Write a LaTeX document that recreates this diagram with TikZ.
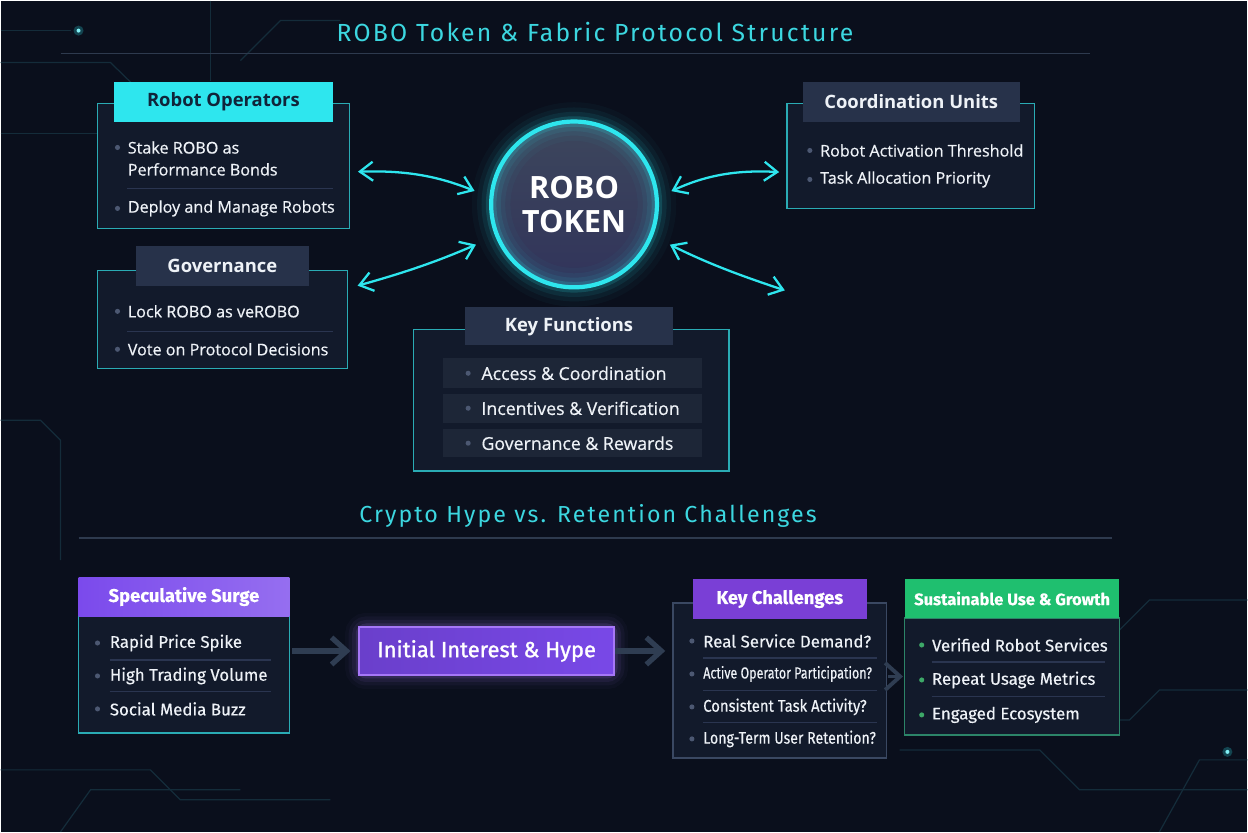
\documentclass[tikz,border=0pt]{standalone}
\usepackage{fontspec}
\usepackage{graphicx}
\setmainfont{Open Sans}
\newfontfamily\itemfont[FakeBold=0.6]{Open Sans}
\newfontfamily\titlefont[LetterSpace=9]{Fira Sans}
\newfontfamily\flowfont[FakeBold=0.4]{Fira Sans}
\newfontfamily\flowmid[FakeBold=1.2]{Fira Sans}
\usetikzlibrary{arrows.meta, positioning, fit}

\definecolor{bgnavy}{HTML}{0A0F1C}
\definecolor{panelfill}{HTML}{121A2B}
\definecolor{edgecyan}{HTML}{2AABB4}
\definecolor{neon}{HTML}{2EE6EE}
\definecolor{titlecyan}{HTML}{3CD7E0}
\definecolor{slate}{HTML}{27324A}
\definecolor{rowfill}{HTML}{1D2637}
\definecolor{dotgray}{HTML}{4C5872}
\definecolor{sepline}{HTML}{2A3550}
\definecolor{rulegray}{HTML}{2E3A4E}
\definecolor{txt}{HTML}{EEF2F7}
\definecolor{headnavy}{HTML}{10243A}
\definecolor{violet}{HTML}{7B4AEC}
\definecolor{violetdark}{HTML}{6A3FCB}
\definecolor{violetedge}{HTML}{A677F7}
\definecolor{plum}{HTML}{7A3FD6}
\definecolor{mint}{HTML}{1FBF6F}
\definecolor{mintdot}{HTML}{3DA868}
\definecolor{flowgray}{HTML}{2F3D52}
\definecolor{greyedge}{HTML}{3A4862}
\definecolor{greenedge}{HTML}{2C8468}
\definecolor{tracecol}{HTML}{142C3A}

\tikzset{
    panel/.style={draw=edgecyan, line width=0.8pt, fill=panelfill, inner sep=0pt},
    head/.style={fill=slate, text=txt, inner sep=0pt,
                 font=\bfseries\fontsize{10.5}{12}\selectfont},
    item/.style={text=txt, anchor=west, inner sep=0pt, align=left,
                 font=\itemfont\fontsize{9.2}{12.5}\selectfont},
    lowitem/.style={item, font=\flowfont\fontsize{9.6}{12}\selectfont},
    lowhead/.style={text=white, inner sep=0pt,
                    font=\flowfont\bfseries\fontsize{10.5}{12}\selectfont},
    bullet/.style={circle, fill=dotgray, inner sep=0pt, minimum size=2.9pt},
    sep/.style={draw=sepline, line width=0.6pt},
    row/.style={fill=rowfill, inner sep=0pt},
    sectitle/.style={text=titlecyan, font=\titlefont\fontsize{14.1}{16}\selectfont},
    rule/.style={draw=rulegray, line width=0.8pt},
    duoarrow/.style={{Straight Barb[length=2.6mm,width=3.8mm]}-{Straight Barb[length=2.6mm,width=3.8mm]},
                     draw=neon, line width=1.3pt, line cap=round},
    flowarrow/.style={-{Straight Barb[length=3mm,width=5.4mm]}, draw=flowgray, line width=3pt},
    trace/.style={draw=tracecol, line width=0.7pt},
}

\begin{document}
\begin{tikzpicture}[x=0.02cm, y=-0.02cm]
    \fill[bgnavy] (0,0) rectangle (1248,832);

    % faint circuit traces
    \draw[trace] (0,30) -- (70,30);
    \draw[trace] (0,62) -- (110,62) -- (190,140) -- (330,140);
    \draw[trace] (0,133) -- (100,133);
    \draw[trace] (210,0) -- (210,80);
    \draw[trace] (240,60) -- (280,20) -- (340,20);
    \draw[trace] (0,420) -- (40,420) -- (60,440) -- (60,560);
    \draw[trace] (0,770) -- (150,770) -- (180,800) -- (330,800);
    \draw[trace] (60,832) -- (90,790) -- (240,790);
    \draw[trace] (1248,600) -- (1150,600) -- (1120,630);
    \draw[trace] (1248,690) -- (1160,690) -- (1130,720) -- (1000,720);
    \draw[trace] (1248,790) -- (1080,790) -- (1040,750) -- (900,750);
    \draw[trace] (1160,832) -- (1200,760) -- (1248,760);
    \fill[neon, opacity=0.25] (78,30) circle[radius=5];
    \fill[neon!60!white] (78,30) circle[radius=2];
    \fill[neon, opacity=0.25] (1228,752) circle[radius=5];
    \fill[neon!60!white] (1228,752) circle[radius=2];

    % top section
    \node[sectitle] (title) at (595,31) {ROBO Token \& Fabric Protocol Structure};
    \draw[rule] (60,53) -- (1090,53);

    \node[circle, draw=neon, line width=2.4pt, minimum size=3.32cm, inner sep=0pt,
          top color=slate!90!white, bottom color=plum!12!slate, text=white, align=center,
          font=\bfseries\fontsize{17.5}{19.5}\selectfont] (tok) at (574,204) {ROBO\\TOKEN};
    \foreach \w/\o in {22/0.03, 16/0.05, 11/0.08, 6/0.16}
        \draw[neon, line width=\w pt, opacity=\o] (tok.center) circle[radius=1.66cm];

    \node[panel, fit={(97,103) (349,228)}] (ro) {};
    \node[head, fill=neon, text=headnavy, minimum width=4.4cm, minimum height=0.82cm] (rohead) at (223,101.5) {Robot Operators};
    \node[bullet] (rob1) at (117,147) {};
    \node[item] (roi1) at (127,158) {Stake ROBO as\\Performance Bonds};
    \draw[sep] (127,188) -- (333,188);
    \node[bullet] (rob2) at (117,208) {};
    \node[item] (roi2) at (127,208) {Deploy and Manage Robots};

    \node[panel, fit={(97,270) (347,368)}] (gov) {};
    \node[head, minimum width=3.48cm, minimum height=0.8cm] (govhead) at (222,266) {Governance};
    \node[bullet] (govb1) at (117,311) {};
    \node[item] (govi1) at (127,311) {Lock ROBO as veROBO};
    \draw[sep] (127,331) -- (333,331);
    \node[bullet] (govb2) at (117,349) {};
    \node[item] (govi2) at (127,349) {Vote on Protocol Decisions};

    \node[panel, fit={(787,103) (1035,208)}] (cu) {};
    \node[head, minimum width=4.34cm, minimum height=0.82cm] (cuhead) at (911.5,101.5) {Coordination Units};
    \node[bullet] (cub1) at (810,150) {};
    \node[item] (cui1) at (820,150) {Robot Activation Threshold};
    \node[bullet] (cub2) at (810,179) {};
    \node[item] (cui2) at (820,179) {Task Allocation Priority};

    \node[panel, fit={(413,329) (729,471)}] (kf) {};
    \node[head, minimum width=4.16cm, minimum height=0.76cm] (kfhead) at (569,326) {Key Functions};
    \node[row, fit={(443,358) (702,388)}] (kfrow1) {};
    \node[row, fit={(443,394) (702,423)}] (kfrow2) {};
    \node[row, fit={(443,429) (702,457)}] (kfrow3) {};
    \node[bullet] (kfb1) at (468,373) {};
    \node[item, font=\itemfont\fontsize{10.1}{12}\selectfont] (kfi1) at (481,373) {Access \& Coordination};
    \node[bullet] (kfb2) at (468,408) {};
    \node[item, font=\itemfont\fontsize{10.1}{12}\selectfont] (kfi2) at (481,408) {Incentives \& Verification};
    \node[bullet] (kfb3) at (468,443) {};
    \node[item, font=\itemfont\fontsize{10.1}{12}\selectfont] (kfi3) at (481,443) {Governance \& Rewards};

    \coordinate (loose) at (785,290);
    \draw[duoarrow, bend left=12, shorten <=0.16cm, shorten >=0.32cm] ([yshift=-0.12cm]ro.east) to (tok.175);
    \draw[duoarrow, bend right=4, shorten <=0.2cm, shorten >=0.42cm] ([yshift=0.62cm]gov.east) to (tok.202);
    \draw[duoarrow, bend left=14, shorten <=0.28cm, shorten >=0.14cm] (tok.5) to ([yshift=-0.33cm]cu.west);
    \draw[duoarrow, bend right=4, shorten <=0.38cm] (tok.338) to (loose);

    % bottom section
    \node[sectitle, font=\titlefont\fontsize{13.2}{15}\selectfont] (title2) at (588,516) {Crypto Hype vs. Retention Challenges};
    \draw[rule] (78,538) -- (1112,538);

    \node[panel, fit={(78,616) (289,733)}] (ss) {};
    \node[lowhead, left color=violet, right color=violet!80!white, minimum width=4.22cm, minimum height=0.78cm] (sshead) at (183.5,596.5) {Speculative Surge};
    \node[bullet] (ssb1) at (97,643) {};
    \node[lowitem] (ssi1) at (109,643) {Rapid Price Spike};
    \draw[sep] (109,660) -- (271,660);
    \node[bullet] (ssb2) at (97,676) {};
    \node[lowitem] (ssi2) at (109,676) {High Trading Volume};
    \draw[sep] (109,692) -- (271,692);
    \node[bullet] (ssb3) at (97,709) {};
    \node[lowitem] (ssi3) at (109,709) {Social Media Buzz};

    \foreach \w/\o in {16/0.03, 12/0.05, 8/0.08, 4/0.14}
        \draw[violetedge, line width=\w pt, opacity=\o, rounded corners=4pt] (359,627) rectangle (614,675);
    \node[left color=violetdark, right color=violet!85!violetdark, draw=violetedge, line width=0.9pt, inner sep=0pt, text=white,
          font=\flowmid\fontsize{12.5}{14}\selectfont, minimum width=5.1cm, minimum height=0.96cm] (ih) at (486.5,651) {Initial Interest \& Hype};

    \node[panel, draw=greyedge, fit={(673,603) (887,758)}] (kc) {};
    \node[lowhead, fill=plum, minimum width=3.48cm, minimum height=0.8cm] (kchead) at (780,599) {Key Challenges};
    \node[bullet] (kcb1) at (692,641) {};
    \node[lowitem] (kci1) at (703,641) {Real Service Demand?};
    \draw[sep] (703,658) -- (877,658);
    \node[bullet] (kcb2) at (692,674) {};
    \node[lowitem] (kci2) at (703,674) {\scalebox{0.74}[0.95]{Active Operator Participation?}};
    \draw[sep] (703,691) -- (877,691);
    \node[bullet] (kcb3) at (692,707) {};
    \node[lowitem] (kci3) at (703,707) {\scalebox{0.88}[1]{Consistent Task Activity?}};
    \draw[sep] (703,723) -- (877,723);
    \node[bullet] (kcb4) at (692,739) {};
    \node[lowitem] (kci4) at (703,739) {\scalebox{0.84}[1]{Long-Term User Retention?}};

    \node[panel, draw=greenedge, fit={(905,618) (1120,735)}] (sg) {};
    \node[lowhead, fill=mint, font=\flowfont\bfseries\fontsize{9.4}{11}\selectfont,
          minimum width=4.3cm, minimum height=0.78cm] (sghead) at (1012.5,598.5) {Sustainable Use \& Growth};
    \node[bullet, fill=mintdot] (sgb1) at (922,645) {};
    \node[lowitem] (sgi1) at (932,645) {Verified Robot Services};
    \draw[sep] (932,662) -- (1105,662);
    \node[bullet, fill=mintdot] (sgb2) at (922,680) {};
    \node[lowitem] (sgi2) at (932,680) {Repeat Usage Metrics};
    \draw[sep] (932,697) -- (1105,697);
    \node[bullet, fill=mintdot] (sgb3) at (922,715) {};
    \node[lowitem] (sgi3) at (932,715) {Engaged Ecosystem};

    \draw[flowarrow, shorten <=0.04cm, shorten >=0.16cm] (ss.east |- ih.west) -- (ih.west);
    \draw[flowarrow, shorten >=0.14cm] (ih.east) -- (ih.east -| kc.west);
    \draw[flowarrow, line width=2.2pt, shorten <=0.02cm, shorten >=0.02cm] (sg.west -| kc.east) -- (sg.west);
\end{tikzpicture}
\end{document}
